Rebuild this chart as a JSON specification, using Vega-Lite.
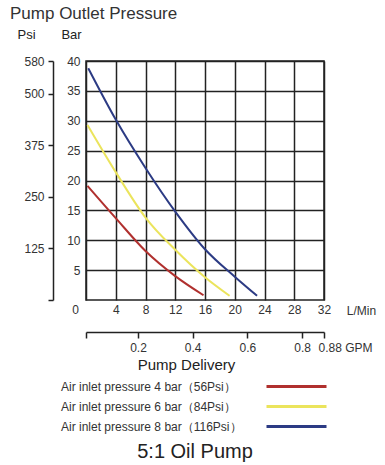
{
  "$schema": "https://vega.github.io/schema/vega-lite/v6.json",
  "width": 238,
  "height": 239,
  "autosize": {"type": "none"},
  "padding": {"left": 86, "top": 61, "right": 61, "bottom": 165},
  "background": "white",
  "config": {
    "font": "Liberation Sans",
    "view": {"stroke": "#222", "strokeWidth": 1.5},
    "axis": {"labelColor": "#333", "labelFontSize": 12, "titleColor": "#222", "titleFontWeight": "normal", "titleFontSize": 13}
  },
  "title": {"text": "Pump Outlet Pressure", "anchor": "start", "frame": "group", "fontSize": 17, "fontWeight": "normal", "color": "#333", "dx": -76, "dy": -1},
  "layer": [
    {
      "data": {"values": [
        {"series": "Air inlet pressure 4 bar（56Psi）", "lpm": 0.2, "bar": 19.1},
        {"series": "Air inlet pressure 4 bar（56Psi）", "lpm": 4, "bar": 13.7},
        {"series": "Air inlet pressure 4 bar（56Psi）", "lpm": 8, "bar": 8.2},
        {"series": "Air inlet pressure 4 bar（56Psi）", "lpm": 12, "bar": 4.0},
        {"series": "Air inlet pressure 4 bar（56Psi）", "lpm": 15.8, "bar": 0.8},
        {"series": "Air inlet pressure 6 bar（84Psi）", "lpm": 0.2, "bar": 29.3},
        {"series": "Air inlet pressure 6 bar（84Psi）", "lpm": 4, "bar": 21.4},
        {"series": "Air inlet pressure 6 bar（84Psi）", "lpm": 8, "bar": 13.8},
        {"series": "Air inlet pressure 6 bar（84Psi）", "lpm": 12, "bar": 8.4},
        {"series": "Air inlet pressure 6 bar（84Psi）", "lpm": 16, "bar": 3.8},
        {"series": "Air inlet pressure 6 bar（84Psi）", "lpm": 19.3, "bar": 0.7},
        {"series": "Air inlet pressure 8 bar（116Psi）", "lpm": 0.3, "bar": 38.8},
        {"series": "Air inlet pressure 8 bar（116Psi）", "lpm": 4, "bar": 30.2},
        {"series": "Air inlet pressure 8 bar（116Psi）", "lpm": 8, "bar": 22.1},
        {"series": "Air inlet pressure 8 bar（116Psi）", "lpm": 12, "bar": 14.8},
        {"series": "Air inlet pressure 8 bar（116Psi）", "lpm": 16, "bar": 8.5},
        {"series": "Air inlet pressure 8 bar（116Psi）", "lpm": 20, "bar": 3.9},
        {"series": "Air inlet pressure 8 bar（116Psi）", "lpm": 23, "bar": 0.7}
      ]},
      "mark": {"type": "line", "interpolate": "monotone", "strokeWidth": 2},
      "encoding": {
        "x": {"field": "lpm", "type": "quantitative", "scale": {"domain": [0, 32], "nice": false},
          "axis": {"values": [0, 4, 8, 12, 16, 20, 24, 28, 32], "grid": true, "gridColor": "#222", "gridWidth": 1.5, "gridOpacity": 1, "ticks": false, "domain": false, "labelPadding": 4, "labelFlush": false,
            "labelOffset": {"condition": {"test": "datum.value == 0", "value": -11}, "value": 0},
            "title": "L/Min", "titleX": 275, "titleY": 10, "titleBaseline": "middle", "titleAlign": "center", "titleFontSize": 12, "titleColor": "#333"}},
        "y": {"field": "bar", "type": "quantitative", "scale": {"domain": [0, 40], "nice": false},
          "axis": {"values": [5, 10, 15, 20, 25, 30, 35, 40], "grid": true, "gridColor": "#222", "gridWidth": 1.5, "gridOpacity": 1, "ticks": false, "domain": false, "labelPadding": 6, "labelFlush": false,
            "title": "Bar", "titleAngle": 0, "titleX": -15, "titleY": -27, "titleAlign": "center", "titleBaseline": "middle"}},
        "color": {"field": "series", "type": "nominal",
          "scale": {"domain": ["Air inlet pressure 4 bar（56Psi）", "Air inlet pressure 6 bar（84Psi）", "Air inlet pressure 8 bar（116Psi）"], "range": ["#b0302e", "#ebe45c", "#2c3b84"]},
          "legend": {"orient": "none", "legendX": -28, "legendY": 318, "title": "5:1 Oil Pump", "titleOrient": "bottom", "titleAnchor": "middle", "titleFontSize": 20, "titleFontWeight": "normal", "titleColor": "#222", "titlePadding": 9,
            "symbolType": "M-5,0H5", "symbolSize": 144, "symbolStrokeWidth": 3, "symbolFillColor": "transparent", "rowPadding": 6,
            "symbolOffset": 231, "labelOffset": -243, "labelLimit": 300, "labelFontSize": 12, "labelColor": "#333"}}
      }
    },
    {
      "data": {"values": [{"gpm": 0.01, "psi": 0}, {"gpm": 0.88, "psi": 580}]},
      "mark": {"type": "point", "opacity": 0},
      "encoding": {
        "x": {"field": "gpm", "type": "quantitative", "scale": {"domain": [0.01, 0.88], "nice": false},
          "axis": {"orient": "bottom", "offset": 32, "values": [0.01, 0.2, 0.4, 0.6, 0.8, 0.88], "grid": false, "domainColor": "#222", "domainWidth": 1.5, "tickColor": "#222", "tickWidth": 1.5, "tickSize": 6, "labelPadding": 4, "labelFlush": false,
            "labelExpr": "datum.value < 0.1 ? '' : (datum.value > 0.85 ? '0.88 GPM' : format(datum.value, '.1f'))",
            "labelAlign": {"condition": {"test": "datum.value > 0.85", "value": "left"}, "value": "center"},
            "labelOffset": {"condition": {"test": "datum.value > 0.85", "value": -6}, "value": 0},
            "title": "Pump Delivery", "titleFontSize": 15, "titleX": 100, "titleY": 32, "titleAlign": "center", "titleBaseline": "middle"}},
        "y": {"field": "psi", "type": "quantitative", "scale": {"domain": [0, 580], "nice": false},
          "axis": {"orient": "left", "offset": 33, "values": [0, 125, 250, 375, 500, 580], "grid": false, "domainColor": "#222", "domainWidth": 1.5, "tickColor": "#222", "tickWidth": 1.5, "tickSize": 5, "labelPadding": 4, "labelFlush": false,
            "labelExpr": "datum.value == 0 ? '' : datum.label",
            "title": "Psi", "titleAngle": 0, "titleX": -27, "titleY": -27, "titleAlign": "center", "titleBaseline": "middle"}}
      }
    }
  ],
  "resolve": {"scale": {"x": "independent", "y": "independent"}}
}
